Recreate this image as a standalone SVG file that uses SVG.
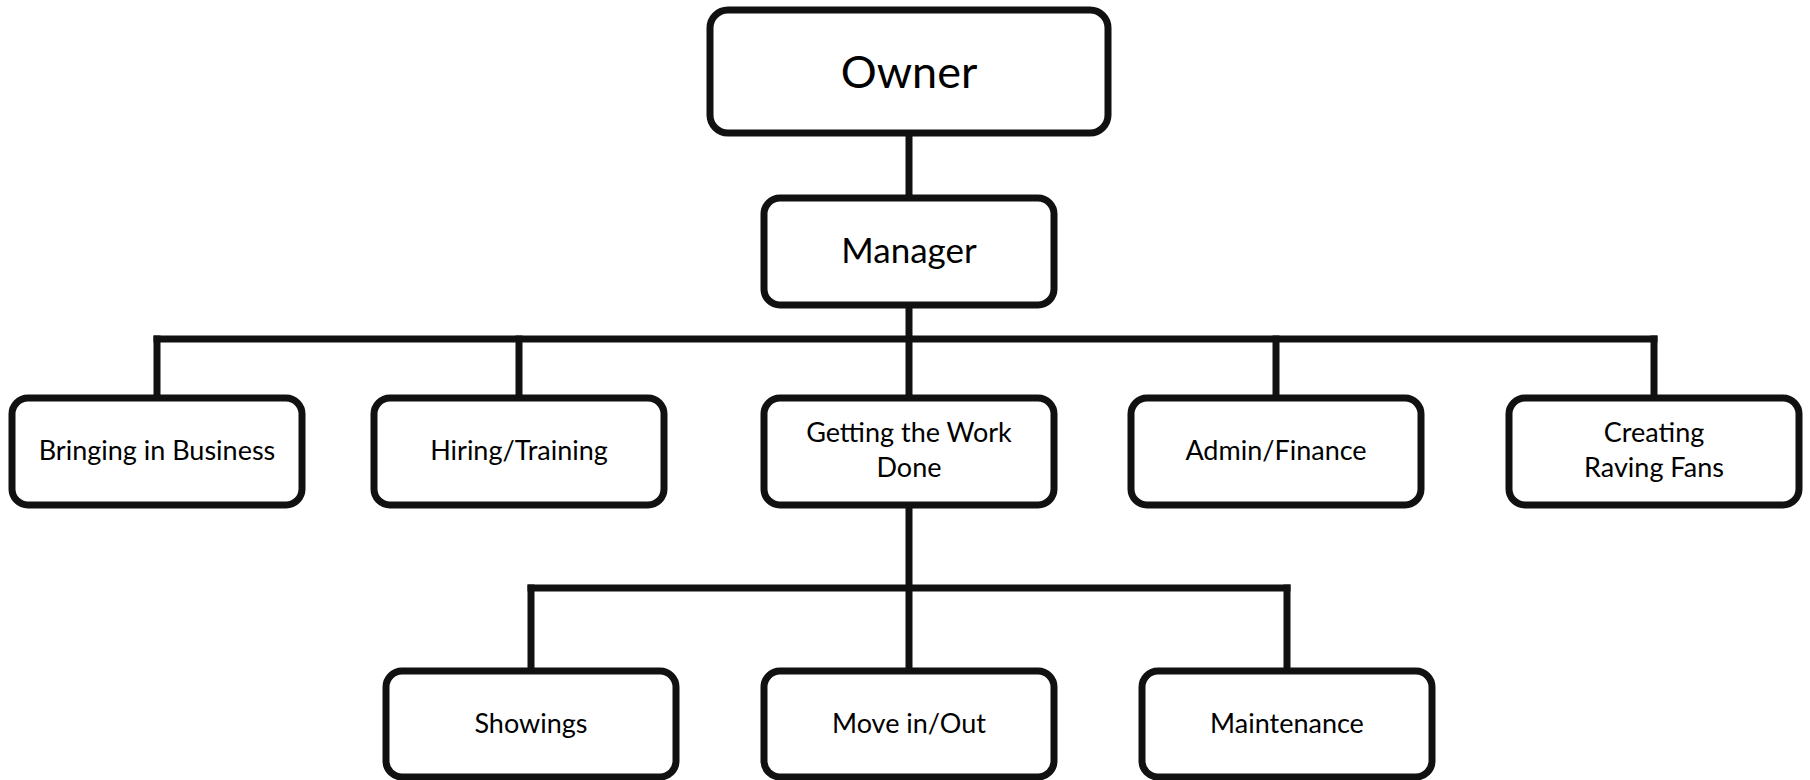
<svg xmlns="http://www.w3.org/2000/svg" width="1810" height="780" viewBox="0 0 1810 780">
  <style>
    .box { fill: #ffffff; stroke: #111111; stroke-width: 7; }
    .conn { fill: none; stroke: #111111; stroke-width: 7; stroke-linecap: square; }
    .lbl { font-family: Lato, "Liberation Sans", sans-serif; fill: #000000; text-anchor: middle; }
    .t1 { font-size: 45px; }
    .t2 { font-size: 35px; }
    .t3 { font-size: 27px; }
  </style>
  <rect width="1810" height="780" fill="#ffffff"/>
  <g id="connectors">
    <line class="conn" x1="909" y1="133" x2="909" y2="198"/>
    <line class="conn" x1="909" y1="305" x2="909" y2="398"/>
    <line class="conn" x1="157" y1="339" x2="1654" y2="339"/>
    <line class="conn" x1="157" y1="339" x2="157" y2="398"/>
    <line class="conn" x1="519" y1="339" x2="519" y2="398"/>
    <line class="conn" x1="1276" y1="339" x2="1276" y2="398"/>
    <line class="conn" x1="1654" y1="339" x2="1654" y2="398"/>
    <line class="conn" x1="909" y1="505" x2="909" y2="671"/>
    <line class="conn" x1="531" y1="588" x2="1287" y2="588"/>
    <line class="conn" x1="531" y1="588" x2="531" y2="671"/>
    <line class="conn" x1="1287" y1="588" x2="1287" y2="671"/>
  </g>
  <g id="owner">
    <rect class="box" x="710" y="10" width="398" height="123" rx="18"/>
    <text class="lbl t1" x="909" y="88">Owner</text>
  </g>
  <g id="manager">
    <rect class="box" x="764" y="198" width="290" height="107" rx="16"/>
    <text class="lbl t2" x="909" y="263">Manager</text>
  </g>
  <g id="bringing-in-business">
    <rect class="box" x="12" y="398" width="290" height="107" rx="16"/>
    <text class="lbl t3" x="157" y="460">Bringing in Business</text>
  </g>
  <g id="hiring-training">
    <rect class="box" x="374" y="398" width="290" height="107" rx="16"/>
    <text class="lbl t3" x="519" y="460">Hiring/Training</text>
  </g>
  <g id="getting-the-work-done">
    <rect class="box" x="764" y="398" width="290" height="107" rx="16"/>
    <text class="lbl t3" x="909" y="442">Getting the Work</text>
    <text class="lbl t3" x="909" y="477">Done</text>
  </g>
  <g id="admin-finance">
    <rect class="box" x="1131" y="398" width="290" height="107" rx="16"/>
    <text class="lbl t3" x="1276" y="460">Admin/Finance</text>
  </g>
  <g id="creating-raving-fans">
    <rect class="box" x="1509" y="398" width="290" height="107" rx="16"/>
    <text class="lbl t3" x="1654" y="442">Creating</text>
    <text class="lbl t3" x="1654" y="477">Raving Fans</text>
  </g>
  <g id="showings">
    <rect class="box" x="386" y="671" width="290" height="106" rx="16"/>
    <text class="lbl t3" x="531" y="733">Showings</text>
  </g>
  <g id="move-in-out">
    <rect class="box" x="764" y="671" width="290" height="106" rx="16"/>
    <text class="lbl t3" x="909" y="733">Move in/Out</text>
  </g>
  <g id="maintenance">
    <rect class="box" x="1142" y="671" width="290" height="106" rx="16"/>
    <text class="lbl t3" x="1287" y="733">Maintenance</text>
  </g>
</svg>
